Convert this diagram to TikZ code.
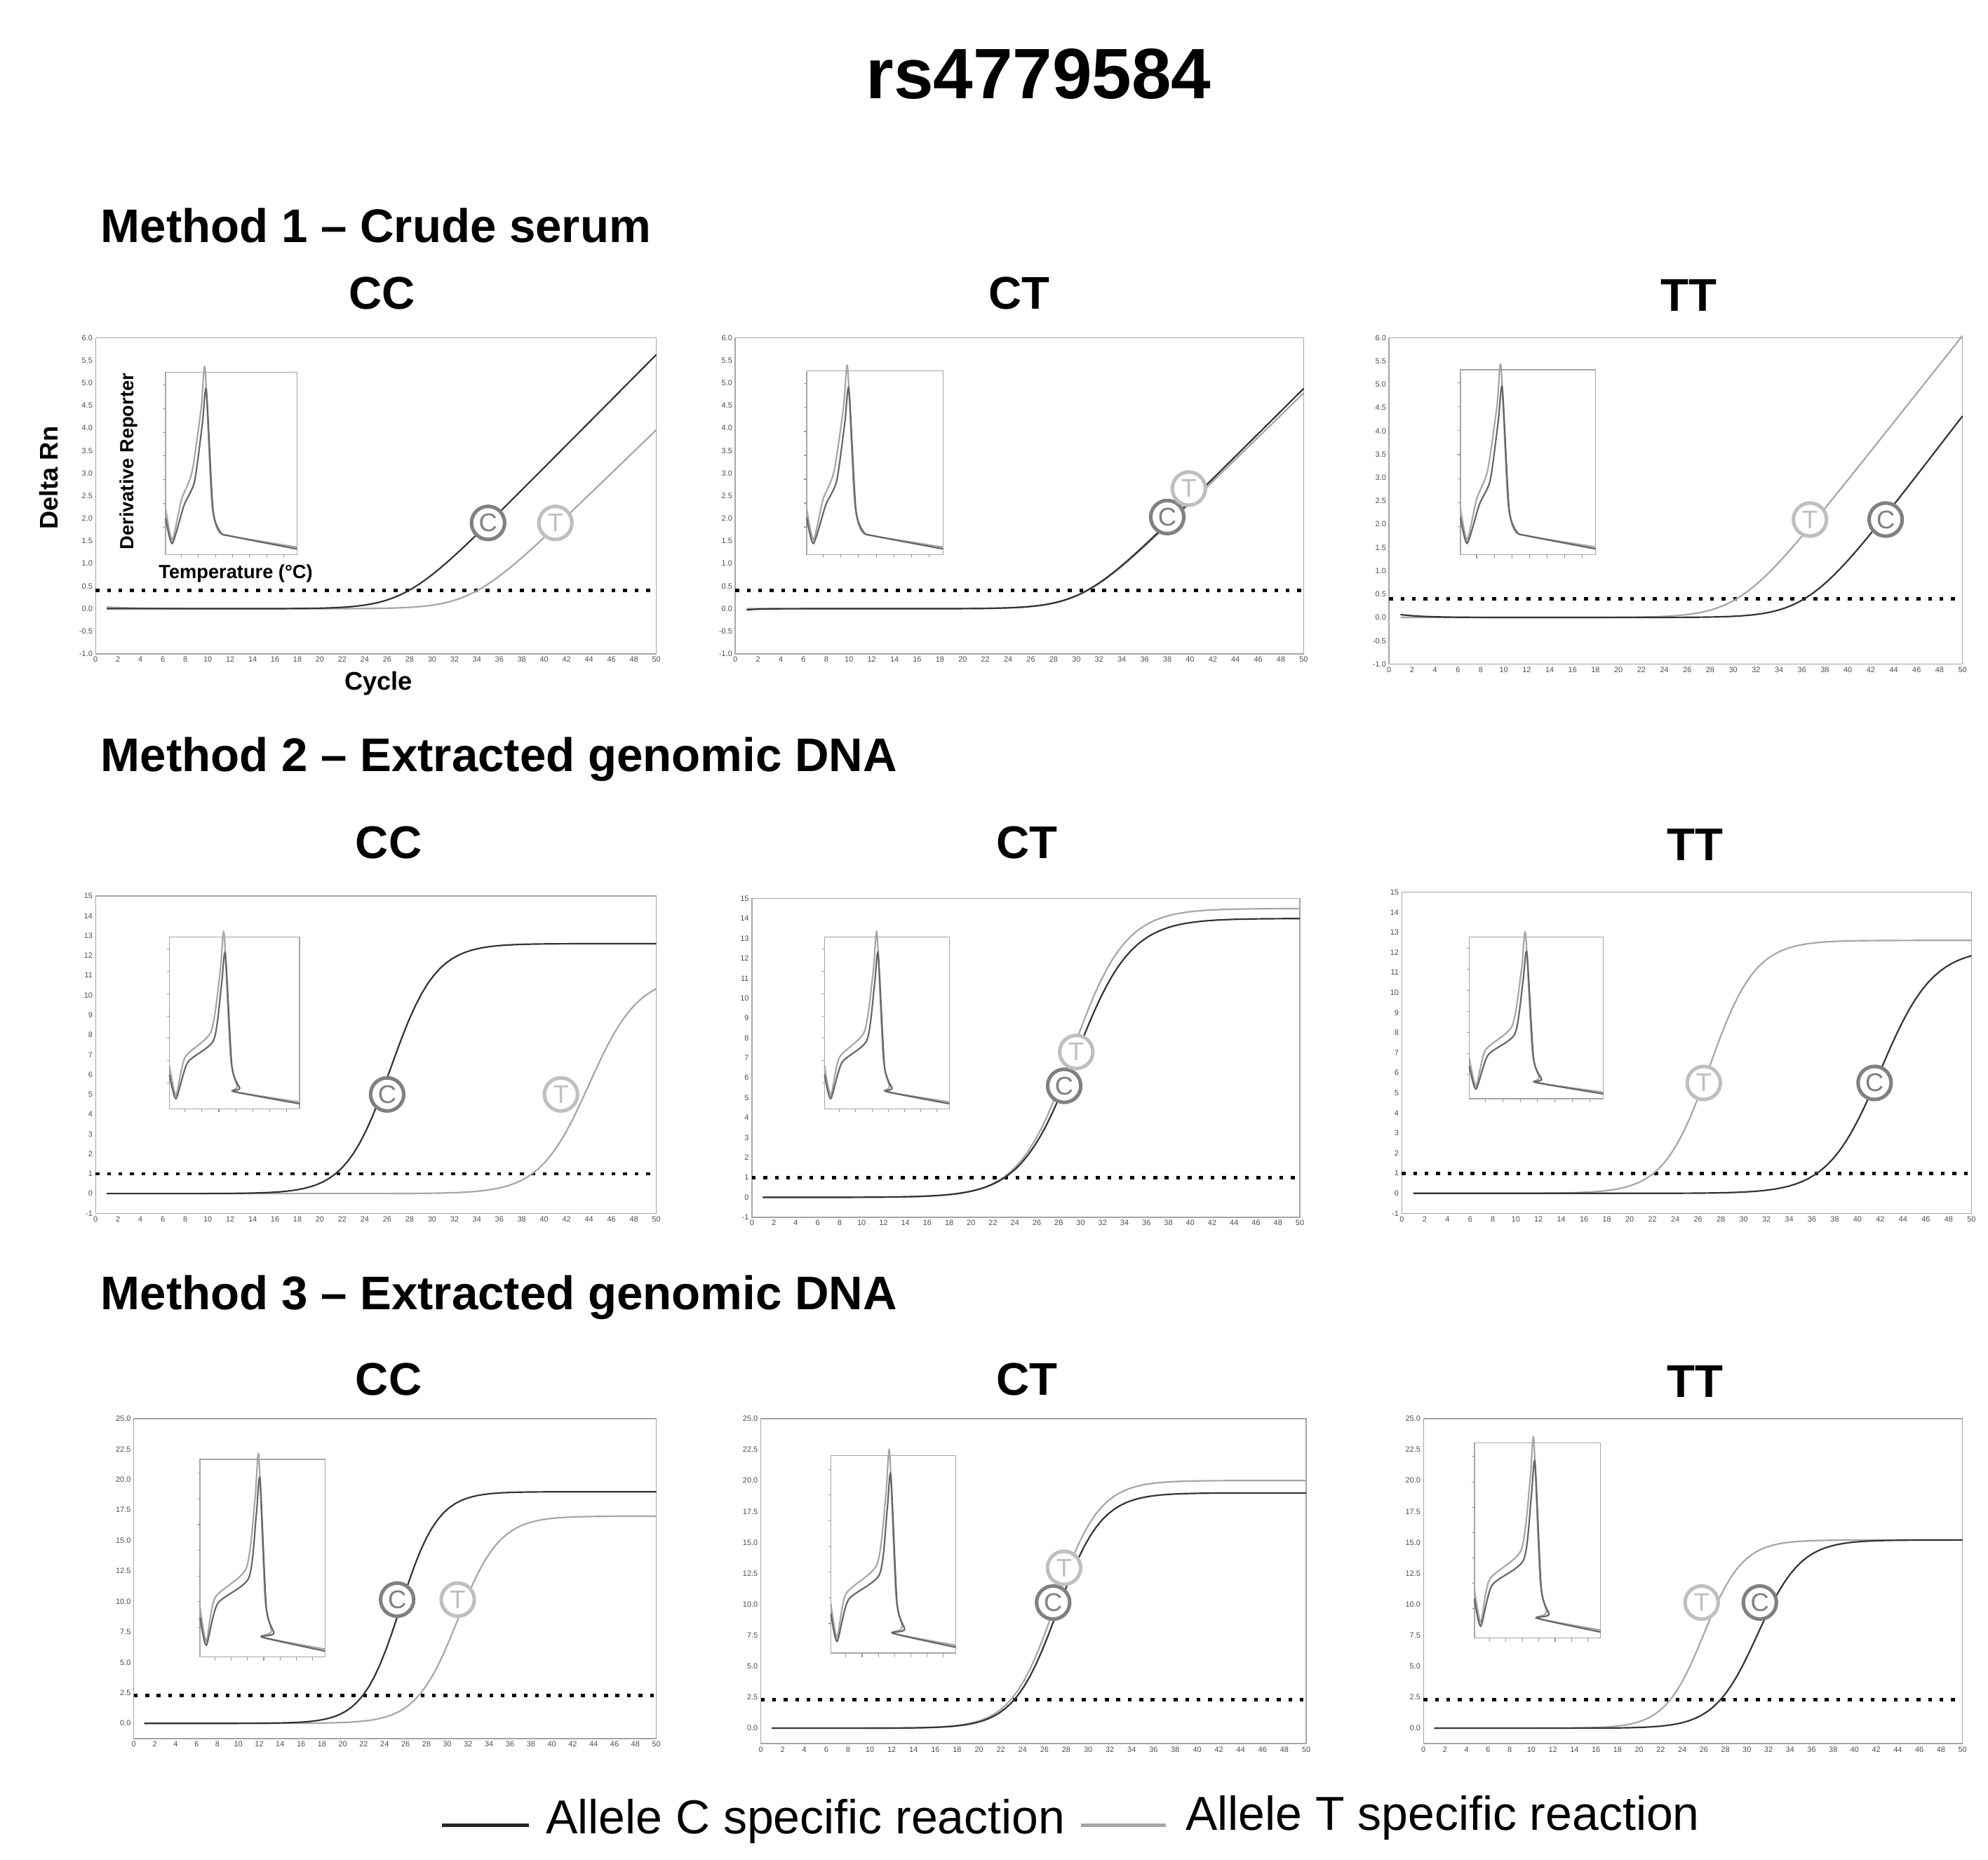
\documentclass[tikz,border=0pt]{standalone}
\usepackage{fontspec}
\setmainfont{Liberation Sans}
\begin{document}
\begin{tikzpicture}[x=0.5pt,y=-0.5pt,
  declare function={logi(\x,\a,\m,\s)=\a/(1+exp(min(9,-(\x-\m)/\s)));
                    softp(\x,\k,\m)=\k*2*(max(0,(\x-\m)/2)+ln(1+exp(-abs((\x-\m)/2))));},
  frame/.style={draw=black!35,line width=0.4pt},
  tick/.style={font=\fontsize{3}{3}\selectfont,inner sep=1pt,text=black!70},
  cc/.style={draw=black!80,line width=0.6pt},
  tc/.style={draw=black!35,line width=0.6pt},
  thr/.style={line width=1.3pt,dash pattern=on 1.5pt off 3pt},
  mkC/.style={circle,draw=black!50,line width=1.4pt,text=black!50,minimum size=13pt,inner sep=0pt,font=\fontsize{10}{10}\selectfont,fill=white},
  mkT/.style={circle,draw=black!25,line width=1.4pt,text=black!25,minimum size=13pt,inner sep=0pt,font=\fontsize{10}{10}\selectfont,fill=white},
  hd/.style={font=\bfseries\fontsize{18.5}{20}\selectfont,anchor=west},
  gt/.style={font=\bfseries\fontsize{18}{20}\selectfont},
  panel/.style n args={6}{shift={(#1,#4)},x={({(#3-#1)/100*1pt},0pt)},y={(0pt,{(#4-#2)/(#6-#5)*0.5pt})}}
]
\useasboundingbox (0,0) rectangle (1560,1459);
\newcommand\Axes[2]{%
  \draw[frame] (0,0) rectangle (50,#2);
  \foreach \v in #1 \node[tick,left] at (0,{\v-(\ym)}) {\v};
  \foreach \c in {0,2,...,50} \node[tick,below] at (\c,0) {\c};}
\newcommand\Inset[5]{%
  \begin{scope}[shift={(#1,#4)},x={({(#3-#1)*0.5pt},0pt)},y={(0pt,{(#4-#2)*0.5pt})}]
  \draw[frame] (0,0) rectangle (1,1);
  \foreach \t in {0.15,0.28,...,0.95} \draw[black!40,line width=0.3pt] (-0.02,\t) -- (0,\t);
  \foreach \t in {0.12,0.25,...,1} \draw[black!40,line width=0.3pt] (\t,0) -- (\t,-0.02);
  \draw[tc] plot[smooth,tension=0.4] coordinates {(0,0.25) (0.05,0.08) (0.12,0.3) ({#5-0.1},0.45) ({#5-0.03},0.8) (#5,1.02) ({#5+0.05},0.3) ({#5+0.1},0.13) (0.5,0.1) (1,0.04)};
  \draw[cc,draw=black!60] plot[smooth,tension=0.4] coordinates {(0,0.2) (0.05,0.06) (0.14,0.27) ({#5-0.08},0.4) ({#5-0.02},0.72) ({#5+0.01},0.9) ({#5+0.06},0.25) ({#5+0.12},0.12) (0.5,0.1) (1,0.03)};
  \end{scope}}

\node[font=\bfseries\fontsize{28}{30}\selectfont] (title) at (815,58) {rs4779584};
\node[hd] (m1) at (72,177) {Method 1 – Crude serum};
\node[hd] (m2) at (72,596) {Method 2 – Extracted genomic DNA};
\node[hd] (m3) at (72,1018) {Method 3 – Extracted genomic DNA};
\node[gt] (g11) at (300,230) {CC};
\node[gt] (g12) at (800,230) {CT};
\node[gt] (g13) at (1325,232) {TT};
\node[gt] (g21) at (305,661) {CC};
\node[gt] (g22) at (806,661) {CT};
\node[gt] (g23) at (1330,663) {TT};
\node[gt] (g31) at (305,1082) {CC};
\node[gt] (g32) at (806,1082) {CT};
\node[gt] (g33) at (1330,1084) {TT};

% Row 1
\def\rowA{6.0,5.5,5.0,4.5,4.0,3.5,3.0,2.5,2.0,1.5,1.0,0.5,0.0,-0.5,-1.0}
\begin{scope}[panel={75}{265}{515}{513}{-1}{6}]\def\ym{-1}
  \Axes{\rowA}{7}
  \draw[thr] (0,1.4) -- (50,1.4);
  \draw[tc] plot[domain=1:50,samples=80] (\x,{softp(\x,0.24,33.5)+1+0.05*exp(-\x/3)});
  \draw[cc] plot[domain=1:50,samples=80] (\x,{softp(\x,0.25,27.5)+1});
  \node[mkC] (c11) at (35,2.9) {C};
  \node[mkT] (t11) at (41,2.9) {T};
\end{scope}
\begin{scope}[panel={577}{265}{1023}{513}{-1}{6}]\def\ym{-1}
  \Axes{\rowA}{7}
  \draw[thr] (0,1.4) -- (50,1.4);
  \draw[tc] plot[domain=1:50,samples=80] (\x,{softp(\x,0.245,30.5)+1});
  \draw[cc] plot[domain=1:50,samples=80] (\x,{softp(\x,0.25,30.5)+1-0.07*exp(-\x)});
  \node[mkC] (c12) at (38,3.03) {C};
  \node[mkT] (t12) at (39.9,3.66) {T};
\end{scope}
\begin{scope}[panel={1090}{265}{1540}{521}{-1}{6}]\def\ym{-1}
  \Axes{\rowA}{7}
  \draw[thr] (0,1.4) -- (50,1.4);
  \draw[tc] plot[domain=1:50,samples=80] (\x,{softp(\x,0.31,30.5)+1});
  \draw[cc] plot[domain=1:50,samples=80] (\x,{softp(\x,0.32,36.5)+1+0.1*exp(-\x/2)});
  \node[mkT] (t13) at (36.7,3.1) {T};
  \node[mkC] (c13) at (43.3,3.1) {C};
\end{scope}
\Inset{130}{292}{233}{435}{0.3}
\Inset{633}{291}{740}{435}{0.3}
\Inset{1146}{290}{1252}{435}{0.3}
\node[font=\bfseries\fontsize{10}{10}\selectfont,rotate=90] (dr) at (38,375) {Delta Rn};
\node[font=\bfseries\fontsize{10}{10}\selectfont] (cy) at (297,536) {Cycle};
\node[font=\bfseries\fontsize{7.5}{8}\selectfont,rotate=90] (der) at (101,362) {Derivative Reporter};
\node[font=\bfseries\fontsize{7.5}{8}\selectfont] (tmp) at (185,450) {Temperature (°C)};

% Row 2
\def\rowB{15,14,13,12,11,10,9,8,7,6,5,4,3,2,1,0,-1}
\begin{scope}[panel={75}{703}{515}{952}{-1}{15}]\def\ym{-1}
  \Axes{\rowB}{16}
  \draw[thr] (0,2) -- (50,2);
  \draw[tc] plot[domain=1:50,samples=90] (\x,{logi(\x,11,44,2.2)+1});
  \draw[cc] plot[domain=1:50,samples=90] (\x,{logi(\x,12.6,26.3,2.0)+1});
  \node[mkC] (c21) at (26,6) {C};
  \node[mkT] (t21) at (41.5,6) {T};
\end{scope}
\begin{scope}[panel={590}{705}{1020}{955}{-1}{15}]\def\ym{-1}
  \Axes{\rowB}{16}
  \draw[thr] (0,2) -- (50,2);
  \draw[tc] plot[domain=1:50,samples=90] (\x,{logi(\x,14.5,29.2,2.4)+1});
  \draw[cc] plot[domain=1:50,samples=90] (\x,{logi(\x,14,29.5,2.5)+1});
  \node[mkC] (c22) at (28.5,6.6) {C};
  \node[mkT] (t22) at (29.6,8.3) {T};
\end{scope}
\begin{scope}[panel={1100}{700}{1547}{952}{-1}{15}]\def\ym{-1}
  \Axes{\rowB}{16}
  \draw[thr] (0,2) -- (50,2);
  \draw[tc] plot[domain=1:50,samples=90] (\x,{logi(\x,12.6,27,2.0)+1});
  \draw[cc] plot[domain=1:50,samples=90] (\x,{logi(\x,12.2,42,2.3)+1});
  \node[mkT] (t23) at (26.5,6.5) {T};
  \node[mkC] (c23) at (41.5,6.5) {C};
\end{scope}
\Inset{133}{735}{235}{870}{0.42}
\Inset{647}{735}{745}{870}{0.42}
\Inset{1153}{735}{1258}{862}{0.42}

% Row 3
\def\rowC{0.0,2.5,5.0,7.5,10.0,12.5,15.0,17.5,20.0,22.5,25.0}
\begin{scope}[panel={105}{1113}{515}{1364}{-1.25}{25}]\def\ym{-1.25}
  \Axes{\rowC}{26.25}
  \draw[thr] (0,3.55) -- (50,3.55);
  \draw[tc] plot[domain=1:50,samples=90] (\x,{logi(\x,17,31,2.0)+1.25});
  \draw[cc] plot[domain=1:50,samples=90] (\x,{logi(\x,19,25.5,1.8)+1.25});
  \node[mkC] (c31) at (25.2,11.4) {C};
  \node[mkT] (t31) at (31,11.4) {T};
\end{scope}
\begin{scope}[panel={597}{1113}{1025}{1368}{-1.25}{25}]\def\ym{-1.25}
  \Axes{\rowC}{26.25}
  \draw[thr] (0,3.55) -- (50,3.55);
  \draw[tc] plot[domain=1:50,samples=90] (\x,{logi(\x,20,27,2.0)+1.25});
  \draw[cc] plot[domain=1:50,samples=90] (\x,{logi(\x,19,27.2,2.0)+1.25});
  \node[mkC] (c32) at (26.8,11.4) {C};
  \node[mkT] (t32) at (27.8,14.2) {T};
\end{scope}
\begin{scope}[panel={1117}{1113}{1540}{1368}{-1.25}{25}]\def\ym{-1.25}
  \Axes{\rowC}{26.25}
  \draw[thr] (0,3.55) -- (50,3.55);
  \draw[tc] plot[domain=1:50,samples=90] (\x,{logi(\x,15.2,26,1.8)+1.25});
  \draw[cc] plot[domain=1:50,samples=90] (\x,{logi(\x,15.2,31,2.0)+1.25});
  \node[mkT] (t33) at (25.8,11.4) {T};
  \node[mkC] (c33) at (31.2,11.4) {C};
\end{scope}
\Inset{157}{1145}{255}{1300}{0.47}
\Inset{652}{1142}{750}{1297}{0.47}
\Inset{1157}{1132}{1256}{1285}{0.47}

% Legend
\coordinate (la) at (347,1432); \coordinate (lb) at (415,1432);
\coordinate (lc) at (848,1432); \coordinate (ld) at (915,1432);
\draw[black!85,line width=1.6pt] (la) -- (lb);
\draw[black!35,line width=1.6pt] (lc) -- (ld);
\node[anchor=west,font=\fontsize{18.7}{20}\selectfont,inner sep=0pt] (lgC) at (428,1429) {Allele C specific reaction};
\node[anchor=west,font=\fontsize{18.7}{20}\selectfont,inner sep=0pt] (lgT) at (930,1426) {Allele T specific reaction};
\end{tikzpicture}
\end{document}
